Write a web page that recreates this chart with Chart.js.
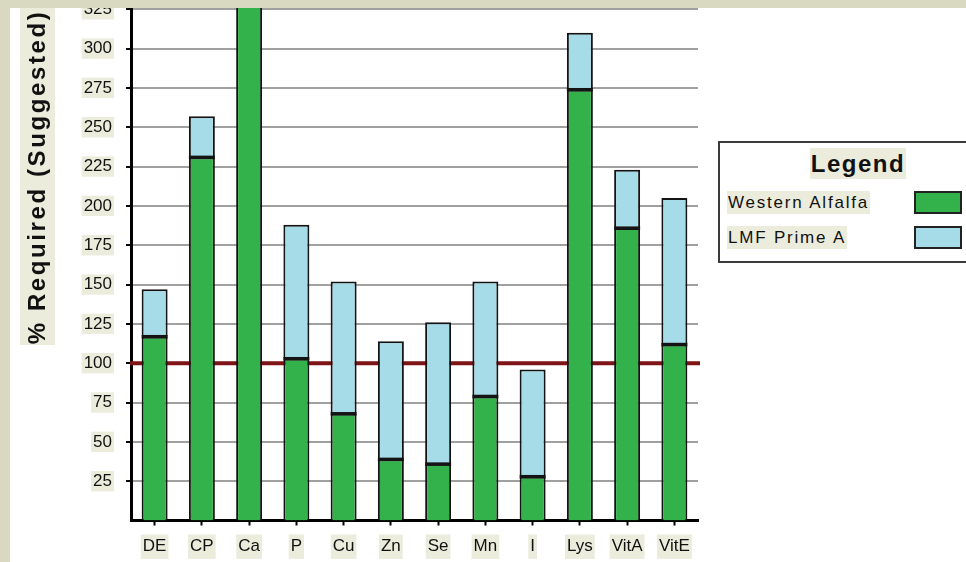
<!DOCTYPE html>
<html>
<head>
<meta charset="utf-8">
<script src="https://cdn.jsdelivr.net/npm/chart.js@4/dist/chart.umd.min.js"></script>
<style>
  html, body { margin: 0; padding: 0; background: #fff; }
  body { width: 966px; height: 562px; position: relative; overflow: hidden; font-family: "Liberation Sans", Arial, sans-serif; }
  #chart { position: absolute; left: 0; top: -30px; }
  .band-top { position: absolute; left: 0; top: 0; width: 966px; height: 8px; background: #d9d9c1; z-index: 3; }
  .band-left { position: absolute; left: 0; top: 0; width: 10px; height: 562px; background: #d9d9c1; z-index: 3; }
  #legend { position: absolute; left: 718px; top: 141px; width: 262px; height: 118px; border: 2px solid #3a3a3a; background: #fff; z-index: 2; }
  #legend .ttl { position: absolute; left: 90px; top: 5px; width: 96px; height: 31px; line-height: 31px; text-align: center; background: #ececdd; font-weight: bold; font-size: 24px; letter-spacing: 1.5px; color: #111; }
  #legend .item { position: absolute; left: 7px; height: 23px; line-height: 23px; font-size: 17px; letter-spacing: 1.8px; background: #ececdd; color: #111; padding: 0 1px; }
  #legend .sw { position: absolute; left: 194px; width: 44px; height: 19px; border: 2px solid #222; }
</style>
</head>
<body>
<canvas id="chart" width="966" height="600"></canvas>
<div class="band-top"></div>
<div class="band-left"></div>
<div id="legend"></div>
<script>
// Nutrient categories along the x axis
const categories = ['DE', 'CP', 'Ca', 'P', 'Cu', 'Zn', 'Se', 'Mn', 'I', 'Lys', 'VitA', 'VitE'];
// % of requirement supplied by the forage alone
const westernAlfalfa = [117, 231, 345, 103, 68, 39, 36, 79, 28, 274, 186, 112];
// additional % supplied by the supplement, stacked on top of the forage
const lmfPrimeA = [30, 26, 0, 85, 84, 75, 90, 73, 68, 36, 37, 93];
// labelled y ticks
const yTicks = [25, 50, 75, 100, 125, 150, 175, 200, 225, 250, 275, 300, 325];
// requirement line (100 %)
const requiredLevel = 100;
const yAxisTitle = '% Required (Suggested)';
const seriesNames = ['Western Alfalfa', 'LMF Prime A'];
const seriesColors = ['#33b24b', '#a6dbe8'];

const BEIGE_LIGHT = '#ececdd';
const OUTLINE = '#141414';

const spacingPlugin = {
  id: 'spacing',
  beforeInit(chart) { chart.ctx.letterSpacing = '1px'; }
};

const requiredLinePlugin = {
  id: 'requiredLine',
  beforeDatasetsDraw(chart) {
    const { ctx, chartArea, scales } = chart;
    const y = scales.y.getPixelForValue(requiredLevel);
    ctx.save();
    ctx.strokeStyle = '#7e1416';
    ctx.lineWidth = 4;
    ctx.beginPath();
    ctx.moveTo(chartArea.left - 1, y);
    ctx.lineTo(chartArea.right + 2, y);
    ctx.stroke();
    ctx.restore();
  }
};

// heavy rule where the two stacked segments meet
const stackSeamPlugin = {
  id: 'stackSeam',
  afterDatasetsDraw(chart) {
    const { ctx, chartArea } = chart;
    const lower = chart.getDatasetMeta(0).data;
    const upperData = chart.data.datasets[1].data;
    ctx.save();
    ctx.beginPath();
    ctx.rect(chartArea.left, chartArea.top, chartArea.right - chartArea.left, chartArea.bottom - chartArea.top);
    ctx.clip();
    ctx.fillStyle = OUTLINE;
    lower.forEach((bar, i) => {
      if (!upperData[i]) return;
      const { x, y, width } = bar.getProps(['x', 'y', 'width']);
      ctx.fillRect(x - width / 2, y - 1.5, width, 3.5);
    });
    ctx.restore();
  }
};

const axisTitlePlugin = {
  id: 'axisTitle',
  beforeDraw(chart) {
    const { ctx } = chart;
    ctx.save();
    ctx.fillStyle = BEIGE_LIGHT;
    ctx.fillRect(20, 0, 35, 375);
    ctx.translate(38, 207);
    ctx.rotate(-Math.PI / 2);
    ctx.letterSpacing = '2.6px';
    ctx.font = 'bold 24px "Liberation Sans", Arial, sans-serif';
    ctx.fillStyle = '#111';
    ctx.textAlign = 'center';
    ctx.textBaseline = 'middle';
    ctx.fillText(yAxisTitle, 0, 0);
    ctx.restore();
  }
};

const chart = new Chart(document.getElementById('chart'), {
  type: 'bar',
  data: {
    labels: categories,
    datasets: [
      {
        label: seriesNames[0],
        data: westernAlfalfa,
        backgroundColor: seriesColors[0],
        borderColor: OUTLINE,
        borderWidth: { top: 2, left: 2, right: 2, bottom: 0 },
        borderSkipped: false
      },
      {
        label: seriesNames[1],
        data: lmfPrimeA,
        backgroundColor: seriesColors[1],
        borderColor: OUTLINE,
        borderWidth: { top: 2, left: 2, right: 2, bottom: 0 },
        borderSkipped: false
      }
    ]
  },
  options: {
    responsive: false,
    animation: false,
    devicePixelRatio: 1,
    categoryPercentage: 1,
    barPercentage: 0.55,
    layout: { padding: { top: 31.4, right: 268, left: 0, bottom: 0 } },
    plugins: {
      legend: { display: false },
      tooltip: { enabled: false }
    },
    scales: {
      x: {
        stacked: true,
        afterFit(scale) { scale.height = 49.5; },
        border: { display: true, color: '#000', width: 3 },
        grid: { display: true, drawOnChartArea: false, drawTicks: true, tickLength: 5, tickColor: '#000', tickWidth: 2, offset: false },
        ticks: {
          color: '#111',
          font: { family: '"Liberation Sans", Arial, sans-serif', size: 17 },
          padding: 11,
          maxRotation: 0,
          autoSkip: false,
          showLabelBackdrop: true,
          backdropColor: BEIGE_LIGHT,
          backdropPadding: { top: 2, bottom: 2, left: 2, right: 2 }
        }
      },
      y: {
        stacked: true,
        min: 0,
        max: 330,
        afterFit(scale) { scale.width = 131; },
        afterBuildTicks(scale) { scale.ticks = yTicks.map(v => ({ value: v })); },
        border: { display: true, color: '#000', width: 3 },
        grid: { color: '#a0a0a0', lineWidth: 2, drawTicks: true, tickLength: 5, tickColor: '#000', tickWidth: 2 },
        ticks: {
          color: '#111',
          font: { family: '"Liberation Sans", Arial, sans-serif', size: 17 },
          padding: 14,
          showLabelBackdrop: true,
          backdropColor: BEIGE_LIGHT,
          backdropPadding: { top: 0, bottom: 0, left: 2, right: 2 }
        }
      }
    }
  },
  plugins: [spacingPlugin, axisTitlePlugin, requiredLinePlugin, stackSeamPlugin]
});

// Legend panel built from the chart's datasets
const legend = document.getElementById('legend');
const ttl = document.createElement('div');
ttl.className = 'ttl';
ttl.textContent = 'Legend';
legend.appendChild(ttl);
chart.data.datasets.forEach((ds, i) => {
  const top = 48 + i * 35;
  const item = document.createElement('div');
  item.className = 'item';
  item.style.top = top + 'px';
  item.textContent = ds.label;
  legend.appendChild(item);
  const sw = document.createElement('div');
  sw.className = 'sw';
  sw.style.top = top + 'px';
  sw.style.background = ds.backgroundColor;
  legend.appendChild(sw);
});
</script>
</body>
</html>
